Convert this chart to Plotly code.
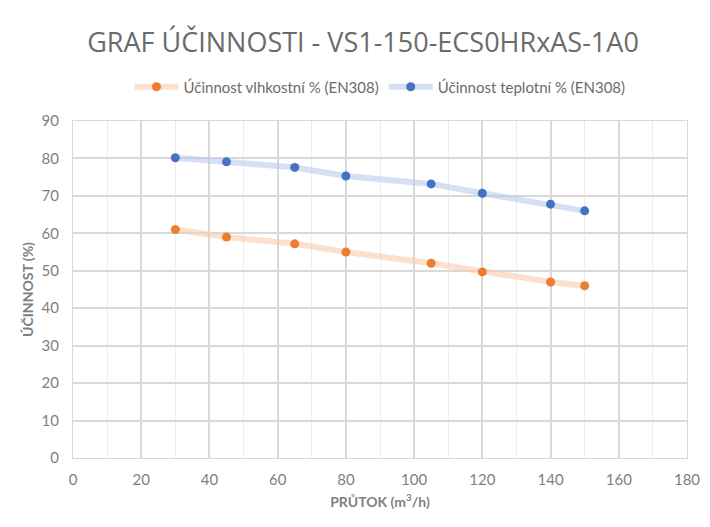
import plotly.graph_objects as go

flow = [30, 45, 65, 80, 105, 120, 140, 150]
moisture_eff = [61.0, 59.0, 57.2, 55.0, 52.0, 49.7, 47.0, 46.0]
thermal_eff = [80.2, 79.1, 77.6, 75.3, 73.2, 70.7, 67.8, 66.0]

series_names = ["Účinnost vlhkostní % (EN308)", "Účinnost teplotní % (EN308)"]

fig = go.Figure()
fig.add_trace(go.Scatter(
    x=flow, y=moisture_eff, name=series_names[0], mode="lines+markers",
    line=dict(color="rgba(248,203,173,0.6)", width=6),
    marker=dict(color="#ED7D31", size=9),
))
fig.add_trace(go.Scatter(
    x=flow, y=thermal_eff, name=series_names[1], mode="lines+markers",
    line=dict(color="rgba(180,199,231,0.55)", width=6),
    marker=dict(color="#4472C4", size=9),
))

grey = "#7f7f7f"
fig.update_layout(
    width=710, height=527,
    margin=dict(l=65, r=31, t=113, b=77),
    paper_bgcolor="white", plot_bgcolor="white",
    font=dict(family="Lato, Open Sans, sans-serif", color=grey),
    title=dict(text="GRAF ÚČINNOSTI - VS1-150-ECS0HRxAS-1A0",
               x=0.5, xanchor="center", y=0.935, yanchor="middle",
               font=dict(size=27, color="#6b6b6b", family="Open Sans, sans-serif")),
    legend=dict(orientation="h", x=0.5, xanchor="center", y=1.101, yanchor="middle",
                font=dict(size=15, color="#6b6b6b"), itemwidth=44),
    showlegend=True,
)
fig.update_xaxes(
    range=[0, 180], dtick=20, showgrid=True, gridcolor="#d9d9d9", gridwidth=1.5,
    minor=dict(dtick=10, showgrid=True, gridcolor="#ececec", gridwidth=1),
    showline=True, linecolor="#d9d9d9", mirror=True, zeroline=False,
    tickfont=dict(size=15, color=grey), ticks="", automargin=False,
    ticklabelstandoff=8,
    title=dict(text="<b>PRŮTOK (m<sup>3</sup>/h)</b>", font=dict(size=14, color=grey), standoff=10),
)
fig.update_yaxes(
    range=[0, 90], dtick=10, showgrid=True, gridcolor="#d9d9d9", gridwidth=1.5,
    showline=True, linecolor="#d9d9d9", mirror=True, zeroline=False,
    tickfont=dict(size=15, color=grey), ticks="", automargin=False,
    ticklabelstandoff=10,
    title=dict(text="<b>ÚČINNOST (%)</b>", font=dict(size=14, color=grey), standoff=4),
)
fig.write_html("out.html")
